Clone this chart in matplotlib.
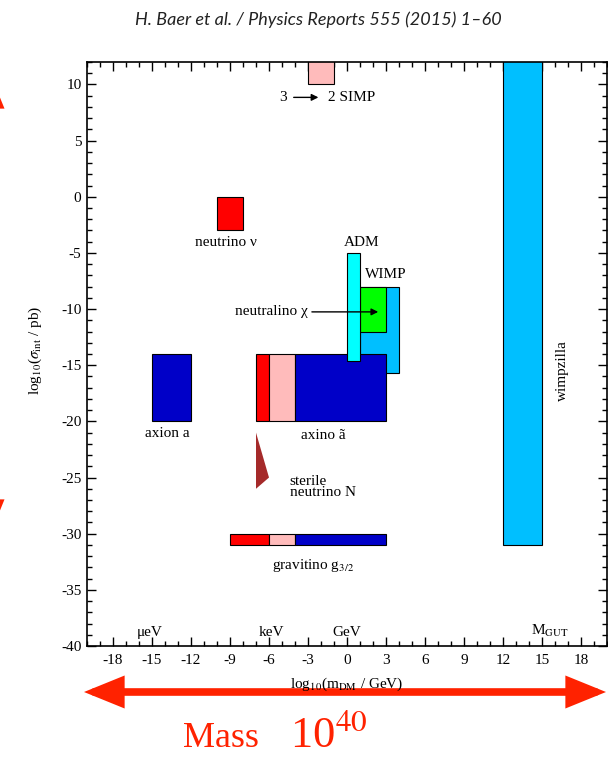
import matplotlib
matplotlib.use("Agg")
import matplotlib.pyplot as plt
from matplotlib.patches import Rectangle, Polygon, FancyArrowPatch
from matplotlib.ticker import MultipleLocator

# Data: candidate regions in (log10 mass / GeV, log10 sigma / pb)
box_names = ["SIMP", "neutrino", "wimpzilla", "axion", "WIMP", "neutralino",
             "axino_r", "axino_p", "axino_b", "ADM",
             "gravitino_r", "gravitino_p", "gravitino_b"]
box_xmin = [-3, -10, 12, -15, 1, 1, -7, -6, -4, 0, -9, -6, -4]
box_xmax = [-1, -8, 15, -12, 4, 3, -6, -4, 3, 1, -6, -4, 3]
box_ymin = [10, -3, -31, -20, -15.7, -12, -20, -20, -20, -14.6, -31, -31, -31]
box_ymax = [13, 0, 13, -14, -8, -8, -14, -14, -14, -5, -30, -30, -30]
box_colors = ["#ffbbbb", "#ff0000", "#00bfff", "#0000c8", "#00bfff", "#00ff00",
              "#ff0000", "#ffbbbb", "#0000c8", "#00ffff",
              "#ff0000", "#ffbbbb", "#0000c8"]

sterile_x = [-7, -6, -7]
sterile_y = [-21, -25, -26]

xticks = list(range(-18, 19, 3))
yticks = list(range(-40, 11, 5))

plt.rcParams['font.family'] = ['Liberation Serif', 'DejaVu Serif']
plt.rcParams['mathtext.fontset'] = 'stix'
plt.rcParams['axes.unicode_minus'] = False

fig = plt.figure(figsize=(6.08, 7.58), dpi=100)
ax = fig.add_axes([87 / 608, 112 / 758, 520 / 608, 584 / 758])

for i in range(len(box_names)):
    ax.add_patch(Rectangle((box_xmin[i], box_ymin[i]), box_xmax[i] - box_xmin[i],
                           box_ymax[i] - box_ymin[i], facecolor=box_colors[i],
                           edgecolor='black', lw=0.8, zorder=2 + i * 0.01))
ax.add_patch(Polygon(list(zip(sterile_x, sterile_y)), closed=True,
                     facecolor='#a52a2a', edgecolor='none', zorder=3))

ax.set_xlim(-20, 20)
ax.set_ylim(-40, 12)
ax.set_xticks(xticks)
ax.set_yticks(yticks)
ax.xaxis.set_minor_locator(MultipleLocator(1))
ax.yaxis.set_minor_locator(MultipleLocator(1))
ax.tick_params(which='both', direction='in', top=True, right=True, width=1)
ax.tick_params(which='major', length=6.5, labelsize=11)
ax.tick_params(axis='x', which='major', pad=6)
ax.tick_params(axis='y', which='major', pad=4)
ax.tick_params(which='minor', length=3.5)
for s in ax.spines.values():
    s.set_linewidth(1.2)

fs = 11
ax.text(-4.9, 8.85, "3", ha='center', va='center', fontsize=fs)
ax.annotate("", xy=(-2.2, 8.85), xytext=(-4.1, 8.85),
            arrowprops=dict(arrowstyle='-|>', color='black', lw=1, mutation_scale=10,
                            shrinkA=0, shrinkB=0))
ax.text(-1.5, 8.85, "2 SIMP", ha='left', va='center', fontsize=fs)
ax.text(-9.3, -4.05, "neutrino ν", ha='center', va='center', fontsize=fs)
ax.text(1.1, -4.05, "ADM", ha='center', va='center', fontsize=fs)
ax.text(3.0, -6.9, "WIMP", ha='center', va='center', fontsize=fs)
ax.text(-3.0, -10.2, "neutralino χ", ha='right', va='center', fontsize=fs)
ax.annotate("", xy=(2.4, -10.25), xytext=(-2.7, -10.25),
            arrowprops=dict(arrowstyle='-|>', color='black', lw=1, mutation_scale=10,
                            shrinkA=0, shrinkB=0),
            zorder=5)
ax.text(-13.8, -21.1, "axion a", ha='center', va='center', fontsize=fs)
ax.text(-1.85, -21.25, "axino ã", ha='center', va='center', fontsize=fs)
ax.text(-4.4, -25.85, "sterile\nneutrino N", ha='left', va='center', fontsize=fs,
        linespacing=0.8)
ax.text(-2.6, -32.8, r"gravitino g$_{3/2}$", ha='center', va='center', fontsize=fs)
ax.text(16.6, -15.5, "wimpzilla", ha='center', va='center', fontsize=fs, rotation=90)

ax.text(-15.15, -38.8, "μeV", ha='center', va='center', fontsize=fs)
ax.text(-5.8, -38.8, "keV", ha='center', va='center', fontsize=fs)
ax.text(0.0, -38.8, "GeV", ha='center', va='center', fontsize=fs)
ax.text(15.6, -38.7, r"M$_{\rm GUT}$", ha='center', va='center', fontsize=fs)

fig.text(35 / 608, 1 - 350 / 758, r"log$_{10}$($\sigma_{\rm int}$ / pb)",
         rotation=90, ha='center', va='center', fontsize=fs)
fig.text(347 / 608, 1 - 684 / 758, r"log$_{10}$(m$_{\rm DM}$ / GeV)",
         ha='center', va='center', fontsize=fs)

fig.text(318 / 608, 1 - 20 / 758, "H. Baer et al. / Physics Reports 555 (2015) 1–60",
         ha='center', va='center', fontsize=13, style='italic', family='Lato',
         color='#222222')

red = '#ff2200'
arrow_style = '<|-|>,head_length=1.6,head_width=0.65'
fig.add_artist(FancyArrowPatch((84 / 608, 1 - 692 / 758), (606 / 608, 1 - 692 / 758),
                               transform=fig.transFigure, arrowstyle=arrow_style,
                               mutation_scale=12, lw=5.5, color=red,
                               shrinkA=0, shrinkB=0, joinstyle='miter'))
fig.add_artist(FancyArrowPatch((-12 / 608, 1 - 68 / 758), (-12 / 608, 1 - 540 / 758),
                               transform=fig.transFigure, arrowstyle=arrow_style,
                               mutation_scale=12, lw=5.5, color=red,
                               shrinkA=0, shrinkB=0, joinstyle='miter'))
fig.text(183 / 608, 1 - 747 / 758, "Mass", ha='left', va='baseline', fontsize=26,
         color=red)
fig.text(290 / 608, 1 - 747 / 758, r"10$^{40}$", ha='left', va='baseline', fontsize=32,
         color=red)

fig.savefig("out.png", dpi=100)
